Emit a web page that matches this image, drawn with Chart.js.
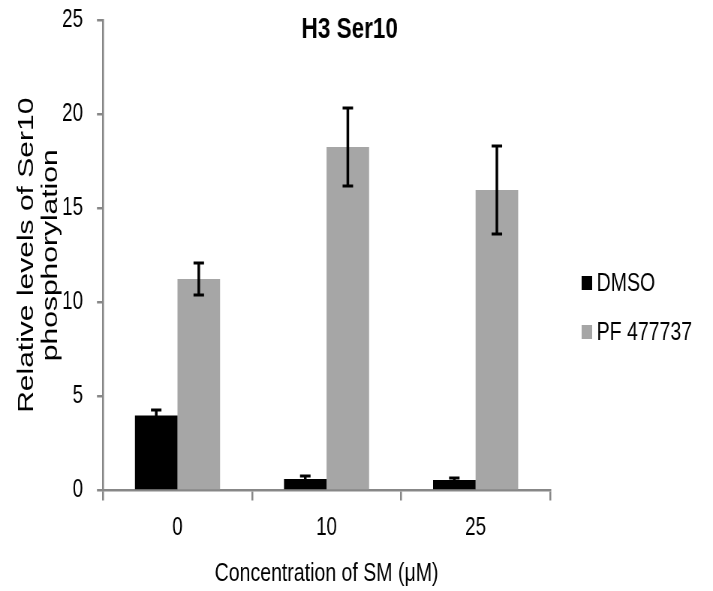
<!DOCTYPE html>
<html lang="en">
<head>
  <meta charset="UTF-8" />
  <title>H3 Ser10</title>
  <script src="https://cdn.jsdelivr.net/npm/chart.js@4.4.0/dist/chart.umd.min.js"></script>
  <style>
    html, body { margin: 0; padding: 0; background: #fff; overflow: hidden; }
    /* the reference looks horizontally squeezed, so draw wider and squeeze it back */
    #wrap {
      width: 950px;
      height: 591px;
      transform: scaleX(0.7505);
      transform-origin: 0 0;
    }
  </style>
</head>
<body>
<div id="wrap"><canvas id="chart"></canvas></div>

<script>
const categories = ['0', '10', '25'];
const seriesNames = ['DMSO', 'PF 477737'];
const dmsoValues = [3.99, 0.61, 0.56];
const dmsoErrors = [0.29, 0.16, 0.10];
const pfValues = [11.24, 18.25, 15.97];
const pfErrors = [0.85, 2.07, 2.34];
const yTicks = [0, 5, 10, 15, 20, 25];

const FONT = "'Liberation Sans', Arial, sans-serif";
const AXIS = '#878787';

const errorBars = {
  id: 'errorBars',
  afterDatasetsDraw(chart) {
    const ctx = chart.ctx;
    const y = chart.scales.y;
    ctx.save();
    ctx.strokeStyle = '#000';
    chart.data.datasets.forEach((ds, i) => {
      const meta = chart.getDatasetMeta(i);
      meta.data.forEach((bar, j) => {
        const v = ds.data[j], e = ds.errors[j];
        const top = y.getPixelForValue(v + e);
        const bot = y.getPixelForValue(v - e);
        ctx.lineWidth = 3.5;
        ctx.beginPath();
        ctx.moveTo(bar.x, top);
        ctx.lineTo(bar.x, bot);
        ctx.stroke();
        ctx.lineWidth = 3;
        ctx.beginPath();
        ctx.moveTo(bar.x - 7, top); ctx.lineTo(bar.x + 7, top);
        ctx.moveTo(bar.x - 7, bot); ctx.lineTo(bar.x + 7, bot);
        ctx.stroke();
      });
    });
    ctx.restore();
  }
};

// title sits inside the plot area and the legend floats right of it
const decor = {
  id: 'decor',
  afterDraw(chart) {
    const ctx = chart.ctx;
    ctx.save();
    ctx.fillStyle = '#000';
    ctx.font = 'bold 30px ' + FONT;
    ctx.textAlign = 'center';
    ctx.textBaseline = 'middle';
    ctx.fillText('H3 Ser10', 466, 30);

    const rows = [283, 332];
    ctx.font = '26px ' + FONT;
    ctx.textAlign = 'left';
    chart.data.datasets.forEach((ds, i) => {
      ctx.fillStyle = ds.backgroundColor;
      ctx.fillRect(775, rows[i] - 7, 14, 14);
      ctx.fillStyle = '#000';
      ctx.fillText(ds.label, 795, rows[i] + 1);
    });
    ctx.restore();
  }
};

new Chart(document.getElementById('chart').getContext('2d'), {
  type: 'bar',
  data: {
    labels: categories,
    datasets: [
      { label: seriesNames[0], data: dmsoValues, errors: dmsoErrors, backgroundColor: '#000000' },
      { label: seriesNames[1], data: pfValues, errors: pfErrors, backgroundColor: '#a6a6a6' }
    ]
  },
  options: {
    responsive: true,
    maintainAspectRatio: false,
    animation: false,
    categoryPercentage: 0.571,
    barPercentage: 1,
    layout: { padding: { top: 20, right: 217, bottom: 0, left: 0 } },
    plugins: {
      legend: { display: false },
      title: { display: false },
      tooltip: { enabled: false }
    },
    scales: {
      x: {
        afterFit: s => { s.height = 100.5; },
        border: { color: AXIS, width: 2.5 },
        grid: { drawOnChartArea: false, drawTicks: true, tickLength: 10, color: AXIS, lineWidth: 2.5 },
        ticks: { color: '#000', padding: 13, font: { family: FONT, size: 25 } },
        title: {
          display: true,
          text: 'Concentration of SM (\u03bcM)',
          color: '#000',
          padding: { top: 0, bottom: 2 },
          font: { family: FONT, size: 26 }
        }
      },
      y: {
        min: yTicks[0],
        max: yTicks[yTicks.length - 1],
        afterFit: s => { s.width = 137.2; s.paddingTop = 0; s.paddingBottom = 0; },
        afterBuildTicks: s => { s.ticks = yTicks.map(v => ({ value: v })); },
        border: { color: AXIS, width: 2.5 },
        grid: { drawOnChartArea: false, drawTicks: true, tickLength: 8, color: AXIS, lineWidth: 2.5 },
        ticks: { color: '#000', padding: 18.6, font: { family: FONT, size: 25 } },
        title: {
          display: true,
          text: ['Relative levels of Ser10', 'phosphorylation'],
          color: '#000',
          padding: { top: 20, bottom: 0 },
          font: { family: FONT, size: 30, lineHeight: 1.05 }
        }
      }
    }
  },
  plugins: [errorBars, decor]
});
</script>
</body>
</html>
